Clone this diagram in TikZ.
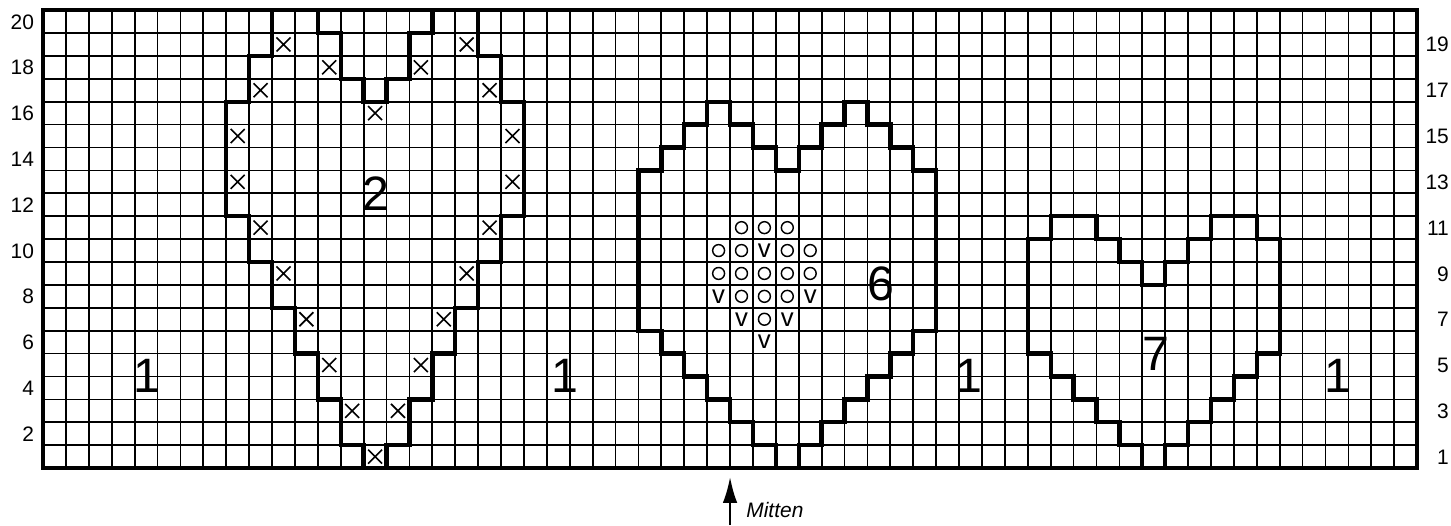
\documentclass[tikz,border=0pt]{standalone}
\usepackage{fontspec}
\setmainfont{Liberation Sans}
\usetikzlibrary{arrows.meta, shapes.misc}

\begin{document}
\begin{tikzpicture}[x=5mm, y=5mm]
    \tikzset{
        gridline/.style={line width=1.1pt},
        frameline/.style={line width=2.9pt},
        heartline/.style={line width=2.7pt, line join=miter, line cap=rect},
        xmark/.style={cross out, draw, line width=1pt, inner sep=0pt,
            minimum size=2.7mm},
        omark/.style={circle, draw, line width=0.9pt, inner sep=0pt,
            minimum size=2.6mm},
        vmark/.style={inner sep=0pt, font=\fontsize{16}{16}\selectfont},
        rownum/.style={inner sep=0pt, anchor=base east,
            font=\fontsize{13}{13}\selectfont},
        bignum/.style={inner sep=0pt, anchor=base,
            font=\fontsize{30}{30}\selectfont},
        mittenarrow/.style={line width=1.3pt, -{Latex[length=16pt, width=9pt]}}
    }
    \useasboundingbox (-1.878,-2.489) rectangle (61.48,20.44);
    \draw[gridline, step=5mm] (0,0) grid (60,20);
    \draw[frameline] (0,0) rectangle (60,20);
    % heart 2
    \draw[heartline] (10,20) -- (10,18) -- (9,18) -- (9,16) -- (8,16) -- (8,11)
        -- (9,11) -- (9,9) -- (10,9) -- (10,7) -- (11,7) -- (11,5) -- (12,5)
        -- (12,3) -- (13,3) -- (13,1) -- (14,1) -- (14,0);
    \draw[heartline] (15,0) -- (15,1) -- (16,1) -- (16,3) -- (17,3) -- (17,5)
        -- (18,5) -- (18,7) -- (19,7) -- (19,9) -- (20,9) -- (20,11) -- (21,11)
        -- (21,16) -- (20,16) -- (20,18) -- (19,18) -- (19,20);
    \draw[heartline] (12,20) -- (12,19) -- (13,19) -- (13,17) -- (14,17)
        -- (14,16) -- (15,16) -- (15,17) -- (16,17) -- (16,19) -- (17,19) -- (17,20);
    % heart 6
    \draw[heartline] (32,0) -- (32,1) -- (31,1) -- (31,2) -- (30,2) -- (30,3)
        -- (29,3) -- (29,4) -- (28,4) -- (28,5) -- (27,5) -- (27,6) -- (26,6)
        -- (26,13) -- (27,13) -- (27,14) -- (28,14) -- (28,15) -- (29,15)
        -- (29,16) -- (30,16) -- (30,15) -- (31,15) -- (31,14) -- (32,14)
        -- (32,13) -- (33,13) -- (33,14) -- (34,14) -- (34,15) -- (35,15)
        -- (35,16) -- (36,16) -- (36,15) -- (37,15) -- (37,14) -- (38,14)
        -- (38,13) -- (39,13) -- (39,6) -- (38,6) -- (38,5) -- (37,5) -- (37,4)
        -- (36,4) -- (36,3) -- (35,3) -- (35,2) -- (34,2) -- (34,1) -- (33,1)
        -- (33,0);
    % heart 7
    \draw[heartline] (48,0) -- (48,1) -- (47,1) -- (47,2) -- (46,2) -- (46,3)
        -- (45,3) -- (45,4) -- (44,4) -- (44,5) -- (43,5) -- (43,10) -- (44,10)
        -- (44,11) -- (46,11) -- (46,10) -- (47,10) -- (47,9) -- (48,9) -- (48,8)
        -- (49,8) -- (49,9) -- (50,9) -- (50,10) -- (51,10) -- (51,11) -- (53,11)
        -- (53,10) -- (54,10) -- (54,5) -- (53,5) -- (53,4) -- (52,4) -- (52,3)
        -- (51,3) -- (51,2) -- (50,2) -- (50,1) -- (49,1) -- (49,0);
    \foreach \x/\y [count=\i] in {10.5/18.5, 12.5/17.5, 14.5/15.5, 16.5/17.5,
            18.5/18.5, 9.5/16.5, 19.5/16.5, 8.5/14.5, 20.5/14.5, 8.5/12.5,
            20.5/12.5, 9.5/10.5, 19.5/10.5, 10.5/8.5, 18.5/8.5, 11.5/6.5,
            17.5/6.5, 12.5/4.5, 16.5/4.5, 13.5/2.5, 15.5/2.5, 14.5/0.5}
        \node[xmark] (cross\i) at (\x,\y) {};
    \foreach \x/\y [count=\i] in {30.5/10.5, 31.5/10.5, 32.5/10.5, 29.5/9.5,
            30.5/9.5, 32.5/9.5, 33.5/9.5, 29.5/8.5, 30.5/8.5, 31.5/8.5,
            32.5/8.5, 33.5/8.5, 30.5/7.5, 31.5/7.5, 32.5/7.5, 31.5/6.5}
        \node[omark] (ring\i) at (\x,\y) {};
    \foreach \x/\y [count=\i] in {31.5/9.5, 29.5/7.5, 33.5/7.5, 30.5/6.5,
            32.5/6.5, 31.5/5.5}
        \node[vmark] (vee\i) at (\x,\y) {v};
    \foreach \r in {2,4,...,20}
        \node[rownum] (rowleft\r) at (-0.38,\r-0.83) {\r};
    \foreach \r in {1,3,...,19}
        \node[rownum] (rowright\r) at (61.4,\r-0.83) {\r};
    \node[bignum] (colourA) at (4.55,3.32) {1};
    \node[bignum] (colourB) at (22.8,3.32) {1};
    \node[bignum] (colourC) at (40.45,3.32) {1};
    \node[bignum] (colourD) at (56.55,3.32) {1};
    \node[bignum] (heartA) at (14.55,11.27) {2};
    \node[bignum] (heartB) at (36.6,7.34) {6};
    \node[bignum] (heartC) at (48.6,4.28) {7};
    \coordinate (arrowfoot) at (30,-2.489);
    \coordinate (arrowtip) at (30,-0.39);
    \draw[mittenarrow] (arrowfoot) -- (arrowtip);
    \node[inner sep=0pt, anchor=base west, font=\fontsize{13}{13}\selectfont\itshape]
        (mitten) at (30.7,-2.14) {Mitten};
\end{tikzpicture}
\end{document}
